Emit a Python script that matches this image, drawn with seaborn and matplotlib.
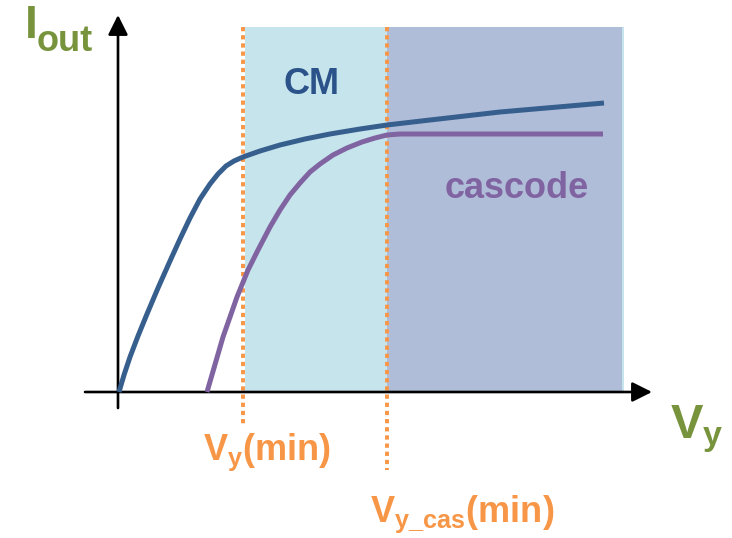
import matplotlib
matplotlib.use('Agg')
import matplotlib.pyplot as plt
import seaborn as sns

# data (x = V_y, y = I_out, arbitrary units, origin at the axes crossing)
cm_vy = [0.01, 0.06, 0.12, 0.20, 0.29, 0.40, 0.52, 0.62, 0.72, 0.82, 0.92, 1.00,
         1.08, 1.16, 1.25, 1.42, 1.62, 1.87, 2.12, 2.42, 2.69, 3.12, 3.82, 4.86]
cm_iout = [0.00, 0.17, 0.35, 0.56, 0.78, 1.04, 1.31, 1.53, 1.74, 1.93, 2.08, 2.18,
           2.26, 2.31, 2.35, 2.41, 2.47, 2.53, 2.58, 2.63, 2.67, 2.72, 2.80, 2.89]

cas_vy = [0.89, 1.05, 1.19, 1.30, 1.40, 1.52, 1.62, 1.72, 1.82, 1.92, 2.02, 2.15,
          2.29, 2.44, 2.57, 2.69, 2.82, 4.85]
cas_iout = [0.00, 0.55, 0.95, 1.22, 1.42, 1.65, 1.82, 1.97, 2.09, 2.20, 2.28, 2.37,
            2.44, 2.50, 2.54, 2.57, 2.58, 2.58]

vy_min = 1.25        # V_y(min)
vy_cas_min = 2.69    # V_y_cas(min)
region_top = 3.65
cm_region = [1.27, 5.06]
cas_region = [2.69, 5.04]

BLUE = '#375f8e'
PURPLE = '#8064a2'
ORANGE = '#f79646'
GREEN = '#77933c'
CYAN = '#c6e4ec'
LAVENDER = '#b0bdd8'

sns.set_style('white')
plt.rcParams['font.family'] = ['Liberation Sans', 'DejaVu Sans']
plt.rcParams['font.weight'] = 'bold'
plt.rcParams['mathtext.fontset'] = 'custom'
plt.rcParams['mathtext.rm'] = 'Liberation Sans:bold'
plt.rcParams['mathtext.it'] = 'Liberation Sans:bold'
plt.rcParams['mathtext.bf'] = 'Liberation Sans:bold'

fig = plt.figure(figsize=(7.32, 5.38), dpi=100)
ax = fig.add_axes([0, 0, 1, 1])
ax.set_xlim(-1.18, 6.14)
ax.set_ylim(-1.46, 3.92)
ax.axis('off')

# shaded operating regions
ax.fill_between(cm_region, 0, region_top, color=CYAN, lw=0, zorder=1)
ax.fill_between(cas_region, 0, region_top, color=LAVENDER, lw=0, zorder=2)

# dotted markers for the minimum voltages
for xv, ybot in [(vy_min, -0.33), (vy_cas_min, -0.78)]:
    ax.plot([xv, xv], [region_top, ybot], color=ORANGE, lw=2.8,
            ls=(0, (1.1, 1.0)), dash_capstyle='butt', zorder=3)

# axes with arrows
arrow = dict(arrowstyle='-|>,head_length=0.8,head_width=0.4', lw=1.9,
             color='black', mutation_scale=15, shrinkA=0, shrinkB=0)
ax.annotate('', xy=(0, 3.77), xytext=(0, -0.16), arrowprops=arrow, zorder=4)
ax.annotate('', xy=(5.34, 0), xytext=(-0.33, 0), arrowprops=arrow, zorder=4)

# curves
sns.lineplot(x=cm_vy, y=cm_iout, ax=ax, color=BLUE, lw=3.6, sort=False,
             estimator=None, zorder=5, solid_joinstyle='round', solid_capstyle='butt')
sns.lineplot(x=cas_vy, y=cas_iout, ax=ax, color=PURPLE, lw=3.6, sort=False,
             estimator=None, zorder=5, solid_joinstyle='round', solid_capstyle='butt')

# labels
ax.text(1.65, 2.98, 'CM', color='#2b5389', fontsize=26, fontweight='bold', va='baseline')
ax.text(3.27, 1.94, 'cascode', color=PURPLE, fontsize=26, fontweight='bold', va='baseline')

ax.text(-0.93, 3.54, 'I', color=GREEN, fontsize=33, fontweight='bold', va='baseline')
ax.text(-0.81, 3.41, 'out', color=GREEN, fontsize=26, fontweight='bold', va='baseline')
ax.text(5.52, -0.46, r'$\mathrm{V_y}$', color=GREEN, fontsize=35, va='baseline')

ax.text(0.85, -0.68, r'$\mathrm{V_y(min)}$', color=ORANGE, fontsize=26, va='baseline')
ax.text(2.52, -1.30, r'$\mathrm{V_{y\_cas}(min)}$', color=ORANGE, fontsize=26, va='baseline')

fig.savefig('out.png', dpi=100)
